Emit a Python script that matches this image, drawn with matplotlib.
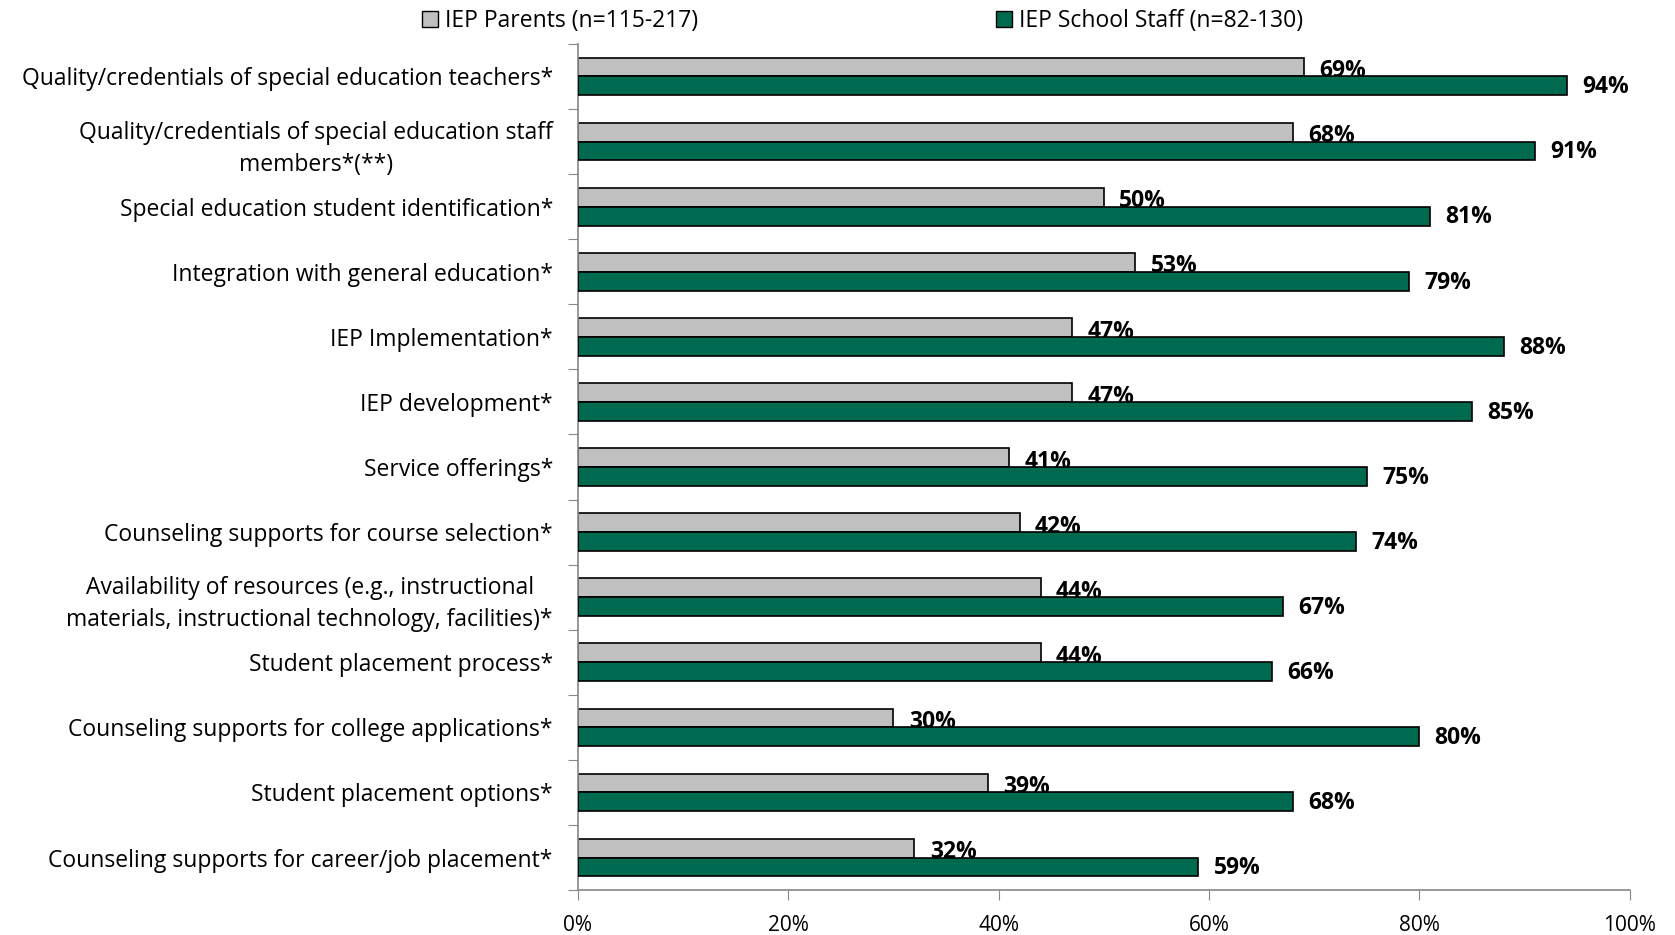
import numpy as np
import matplotlib.pyplot as plt
from matplotlib.patches import Patch

plt.rcParams['font.family'] = ['Open Sans', 'DejaVu Sans']

# categories (top to bottom)
categories = [
    "Quality/credentials of special education teachers*",
    "Quality/credentials of special education staff\nmembers*(**)",
    "Special education student identification*",
    "Integration with general education*",
    "IEP Implementation*",
    "IEP development*",
    "Service offerings*",
    "Counseling supports for course selection*",
    "Availability of resources (e.g., instructional\nmaterials, instructional technology, facilities)*",
    "Student placement process*",
    "Counseling supports for college applications*",
    "Student placement options*",
    "Counseling supports for career/job placement*",
]
parents = [69, 68, 50, 53, 47, 47, 41, 42, 44, 44, 30, 39, 32]
staff = [94, 91, 81, 79, 88, 85, 75, 74, 67, 66, 80, 68, 59]

legend_labels = ["IEP Parents (n=115-217)", "IEP School Staff (n=82-130)"]
xticks = [0, 20, 40, 60, 80, 100]

gray = "#C0C0C0"
green = "#006A50"

fig = plt.figure(figsize=(16.75, 9.35), dpi=100)
ax = fig.add_axes([0.345, 0.048, 0.628, 0.905])

n = len(categories)
y = np.arange(n)
h = 0.29

ax.barh(y - h / 2, parents, height=h, color=gray, edgecolor="black", linewidth=1.2, zorder=2)
ax.barh(y + h / 2, staff, height=h, color=green, edgecolor="black", linewidth=1.2, zorder=3)

for i in range(n):
    ax.annotate(f"{parents[i]}%", (parents[i], y[i] - h / 2), xytext=(11, -3),
                textcoords="offset points", va="center", ha="left",
                fontsize=16.5, fontweight="bold", zorder=2.5)
    ax.annotate(f"{staff[i]}%", (staff[i], y[i] + h / 2), xytext=(11, -1),
                textcoords="offset points", va="center", ha="left",
                fontsize=16.5, fontweight="bold", zorder=4)

ax.set_ylim(n - 0.5, -0.5)
ax.set_xlim(0, 100)
ax.set_xticks(xticks)
ax.set_xticklabels([f"{t}%" for t in xticks], fontsize=15)

# category ticks sit on the group boundaries, labels in the middle
ax.set_yticks(np.arange(n + 1) - 0.5)
ax.set_yticklabels([])
ax.set_yticks(y, minor=True)
ax.set_yticklabels(categories, minor=True, fontsize=16.5, ha="right",
                   multialignment="center", linespacing=1.45)
ax.tick_params(axis="y", which="minor", length=0, pad=18)
ax.tick_params(axis="y", which="major", length=7, color="#888888", direction="out")
ax.tick_params(axis="x", length=7, color="#888888", direction="out", pad=11)

for s in ["top", "right"]:
    ax.spines[s].set_visible(False)
for s in ["left", "bottom"]:
    ax.spines[s].set_color("#888888")
    ax.spines[s].set_linewidth(1.2)

handles = [Patch(facecolor=gray, edgecolor="black"), Patch(facecolor=green, edgecolor="black")]
fig.legend(handles, legend_labels, loc="upper center", bbox_to_anchor=(0.515, 1.012), ncol=2,
           frameon=False, fontsize=16.5, handlelength=0.7, handleheight=0.7,
           handletextpad=0.3, columnspacing=13)

fig.savefig("out.png", dpi=100)
